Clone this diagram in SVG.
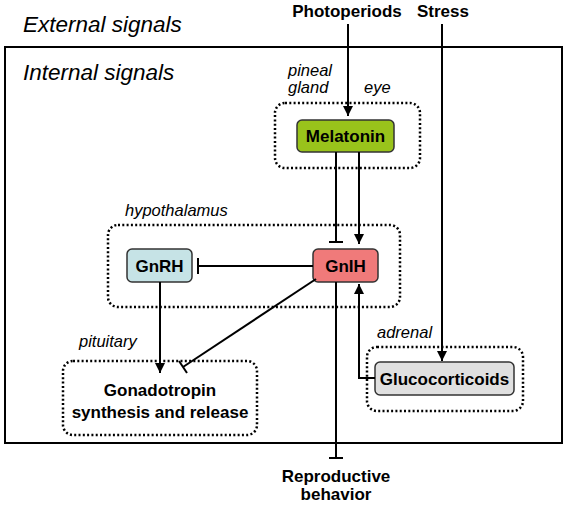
<svg xmlns="http://www.w3.org/2000/svg" width="567" height="508" viewBox="0 0 567 508">
<defs>
<style>
.ln{stroke:#000;stroke-width:2;fill:none}
.dot{stroke:#000;stroke-width:2.5;fill:none;stroke-dasharray:2 2.3}
.box{stroke:#333;stroke-width:1.5}
.b{font-family:"Liberation Sans",Arial,sans-serif;font-weight:bold;font-size:17px;fill:#000;text-anchor:middle}
.i{font-family:"Liberation Sans",Arial,sans-serif;font-style:italic;font-size:16.5px;fill:#000}
.big{font-family:"Liberation Sans",Arial,sans-serif;font-style:italic;font-size:22.5px;fill:#000}
</style>
<marker id="arr" viewBox="0 0 10 10" refX="10" refY="5" markerWidth="10" markerHeight="10" markerUnits="userSpaceOnUse" orient="auto">
<path d="M0,0 L10,5 L0,10 z" fill="#000"/>
</marker>
</defs>
<rect width="567" height="508" fill="#fff"/>
<text class="big" x="23" y="32">External signals</text>
<rect x="5" y="47" width="557" height="396" class="ln"/>
<text class="big" x="23" y="80">Internal signals</text>
<text class="b" x="347" y="17">Photoperiods</text>
<text class="b" x="443" y="17">Stress</text>

<g id="pineal">
<rect x="275" y="103" width="145" height="65" rx="10" class="dot"/>
<text class="i" x="288" y="76">pineal</text>
<text class="i" x="288" y="93">gland</text>
<text class="i" x="364" y="93">eye</text>
</g>
<g id="melatonin">
<rect x="297" y="120" width="97" height="32" rx="5" fill="#99c31b" class="box"/>
<text class="b" x="345.5" y="142">Melatonin</text>
</g>
<g id="hypothalamus">
<rect x="108" y="225" width="292" height="82" rx="10" class="dot"/>
<text class="i" x="125" y="216">hypothalamus</text>
</g>
<g id="gnrh">
<rect x="127" y="249" width="65" height="33" rx="5" fill="#c6e3e6" class="box"/>
<text class="b" x="159.5" y="272">GnRH</text>
</g>
<g id="gnih">
<rect x="313" y="249" width="65" height="33" rx="5" fill="#f07a7a" class="box"/>
<text class="b" x="345.5" y="272">GnIH</text>
</g>
<g id="pituitary">
<rect x="63" y="361" width="194" height="74" rx="10" class="dot"/>
<text class="i" x="79" y="347">pituitary</text>
<text class="b" x="160" y="396">Gonadotropin</text>
<text class="b" x="160" y="418">synthesis and release</text>
</g>
<g id="adrenal">
<rect x="367" y="347" width="156" height="64" rx="10" class="dot"/>
<text class="i" x="377" y="338">adrenal</text>
</g>
<g id="glucocorticoids">
<rect x="375" y="362" width="139" height="33" rx="5" fill="#e0e0e0" class="box"/>
<text class="b" x="444.5" y="385">Glucocorticoids</text>
</g>
<g id="reproductive">
<text class="b" x="336" y="482">Reproductive</text>
<text class="b" x="336" y="500">behavior</text>
</g>

<g id="connectors">
<line x1="348" y1="24" x2="348" y2="116" class="ln" marker-end="url(#arr)"/>
<line x1="442" y1="24" x2="442" y2="361" class="ln" marker-end="url(#arr)"/>
<line x1="336" y1="152" x2="336" y2="242" class="ln"/>
<line x1="329" y1="242" x2="343" y2="242" class="ln"/>
<line x1="359" y1="152" x2="359" y2="244" class="ln" marker-end="url(#arr)"/>
<line x1="313" y1="266" x2="198" y2="266" class="ln"/>
<line x1="198" y1="258" x2="198" y2="274" class="ln"/>
<line x1="160" y1="282" x2="160" y2="373" class="ln" marker-end="url(#arr)"/>
<line x1="316" y1="279" x2="183" y2="367" class="ln"/>
<line x1="179" y1="361" x2="187" y2="373" class="ln"/>
<line x1="336" y1="282" x2="336" y2="458" class="ln"/>
<line x1="329" y1="458" x2="343" y2="458" class="ln"/>
<polyline points="375,378 359,378 359,284" class="ln" marker-end="url(#arr)"/>
</g>
</svg>
